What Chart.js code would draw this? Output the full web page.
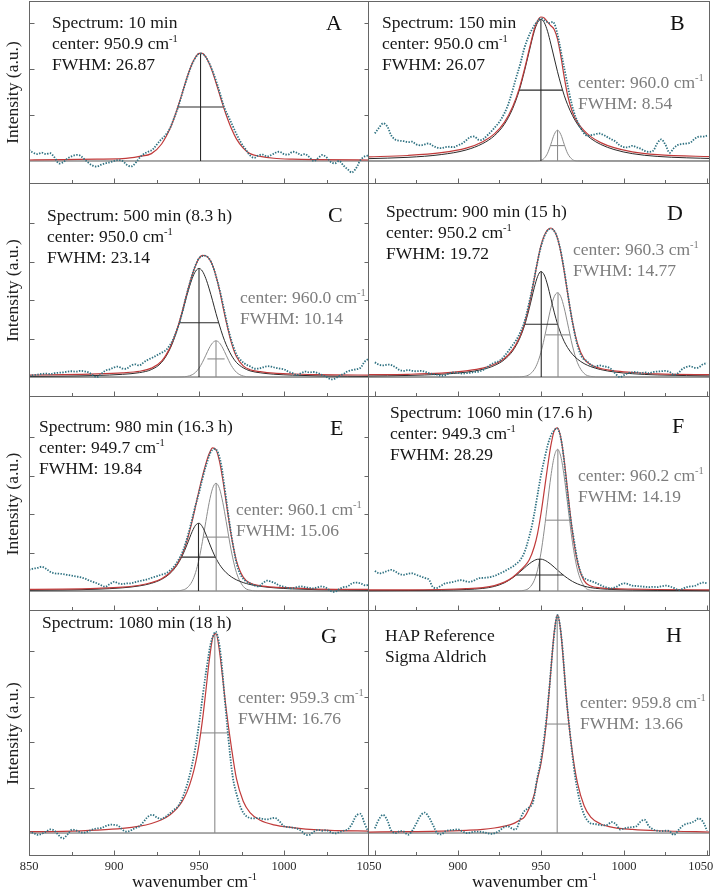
<!DOCTYPE html>
<html><head><meta charset="utf-8">
<script src="https://cdn.jsdelivr.net/npm/chart.js@4.4.1/dist/chart.umd.min.js"></script>
<style>
body{margin:0;background:#fff;width:714px;height:888px;overflow:hidden;position:relative;font-family:"Liberation Serif","Times New Roman",serif;}
canvas{position:absolute;}
.t{position:absolute;font-size:17.5px;line-height:21px;color:#161616;white-space:nowrap;z-index:2;}
.g{color:#7d7d7d;}
.L{position:absolute;font-size:22px;line-height:22px;color:#111;z-index:2;}
sup{font-size:10.5px;line-height:0;vertical-align:super;}
</style></head><body>
<script>
// ---------- data ----------
const PANELS = ['A','B','C','D','E','F','G','H'];
const HEAD_TEXT = [['Spectrum: 10 min'],['Spectrum: 150 min'],['Spectrum: 500 min (8.3 h)'],['Spectrum: 900 min (15 h)'],
  ['Spectrum: 980 min (16.3 h)'],['Spectrum: 1060 min (17.6 h)'],['Spectrum: 1080 min (18 h)'],['HAP Reference','Sigma Aldrich']];
const P1_CENTER = [950.9, 950.0, 950.0, 950.2, 949.7, 949.3, null, null];
const P1_FWHM   = [26.87, 26.07, 23.14, 19.72, 19.84, 28.29, null, null];
const P1_HEIGHT = [2.35, 3.08, 2.82, 2.74, 1.76, 0.83, null, null];
const P2_CENTER = [null, 960.0, 960.0, 960.3, 960.1, 960.2, 959.3, 959.8];
const P2_FWHM   = [null, 8.54, 10.14, 14.77, 15.06, 14.19, 16.76, 13.66];
const P2_HEIGHT = [null, 0.67, 0.94, 2.19, 2.80, 3.68, 4.40, 4.79];

const X_TICKS = [850, 875, 900, 925, 950, 975, 1000, 1025, 1050];
const X_LABELS = [[850, 900, 950, 1000, 1050], [900, 950, 1000, 1050]];

// measured spectra, x = 850, 852.5, ... 1050
const DATA_X0 = 850, DATA_STEP = 2.5;
const DATA_A = [0.24,0.18,0.15,0.18,0.15,0.17,0.08,-0.05,-0.03,0.05,
 0.1,0.13,0.12,0.04,-0.04,-0.1,-0.12,-0.08,-0.05,-0.03,
 0.0,0.02,0.0,-0.08,-0.12,-0.05,0.07,0.15,0.2,0.24,
 0.35,0.46,0.55,0.68,0.9,1.15,1.45,1.75,2.02,2.22,
 2.33,2.32,2.2,2.0,1.75,1.45,1.15,0.95,0.75,0.55,
 0.38,0.25,0.12,0.07,0.12,0.14,0.1,0.13,0.18,0.2,
 0.15,0.14,0.2,0.18,0.13,0.15,0.08,0.0,0.06,0.13,
 0.08,-0.02,-0.05,0.0,-0.1,-0.18,-0.25,-0.15,0.02,0.1,
 0.12];
const DATA_B = [0.6,0.72,0.82,0.75,0.55,0.46,0.44,0.43,0.41,0.42,
 0.36,0.34,0.36,0.38,0.33,0.29,0.28,0.3,0.31,0.3,
 0.34,0.38,0.45,0.52,0.53,0.46,0.47,0.55,0.64,0.74,
 0.85,1.0,1.2,1.48,1.8,2.1,2.45,2.7,2.88,3.02,
 3.1,3.05,3.0,3.02,2.75,2.3,1.85,1.4,1.05,0.82,
 0.65,0.55,0.56,0.58,0.6,0.57,0.52,0.47,0.42,0.34,
 0.3,0.3,0.33,0.3,0.27,0.22,0.2,0.22,0.38,0.47,
 0.35,0.18,0.28,0.35,0.37,0.38,0.4,0.48,0.53,0.53,
 0.55];
const DATA_C = [0.03,0.05,0.06,0.08,0.09,0.08,0.1,0.11,0.12,0.14,
 0.15,0.14,0.16,0.15,0.12,0.05,0.0,0.08,0.17,0.2,
 0.25,0.27,0.22,0.22,0.3,0.33,0.3,0.38,0.45,0.5,
 0.56,0.62,0.68,0.8,1.0,1.28,1.65,2.1,2.5,2.85,
 3.08,3.15,3.12,2.95,2.62,2.2,1.7,1.2,0.82,0.55,
 0.42,0.33,0.28,0.22,0.22,0.25,0.28,0.27,0.24,0.22,
 0.2,0.14,0.1,0.05,0.1,0.14,0.12,0.13,0.1,0.05,
 0.0,-0.06,-0.04,0.03,0.08,0.15,0.18,0.2,0.24,0.4,
 0.48];
const DATA_D = [0.38,0.32,0.3,0.32,0.31,0.25,0.18,0.16,0.18,0.16,
 0.15,0.16,0.14,0.1,0.08,0.06,0.03,0.05,0.1,0.12,
 0.11,0.09,0.1,0.11,0.13,0.14,0.18,0.25,0.33,0.38,
 0.42,0.52,0.65,0.8,0.95,1.15,1.42,1.85,2.35,2.9,
 3.38,3.7,3.84,3.82,3.6,3.15,2.5,1.8,1.2,0.75,
 0.5,0.42,0.32,0.27,0.3,0.28,0.26,0.2,0.08,0.0,
 0.05,0.1,0.12,0.13,0.1,0.12,0.1,0.13,0.14,0.15,
 0.16,0.13,0.06,0.1,0.2,0.26,0.28,0.24,0.25,0.33,
 0.36];
const DATA_E = [0.55,0.58,0.6,0.63,0.58,0.5,0.46,0.45,0.44,0.42,
 0.4,0.38,0.36,0.33,0.28,0.24,0.2,0.15,0.11,0.18,
 0.24,0.2,0.18,0.2,0.2,0.23,0.26,0.28,0.31,0.35,
 0.38,0.42,0.45,0.52,0.62,0.78,0.98,1.3,1.7,2.15,
 2.55,3.0,3.38,3.65,3.68,3.4,2.7,1.9,1.2,0.65,
 0.38,0.26,0.2,0.15,0.12,0.2,0.27,0.24,0.2,0.14,
 0.11,0.08,0.07,0.1,0.12,0.1,0.08,0.07,0.1,0.12,
 0.08,0.0,-0.02,0.05,0.1,0.12,0.2,0.22,0.2,0.15,
 0.16];
const DATA_F = [0.52,0.46,0.48,0.52,0.55,0.5,0.44,0.42,0.45,0.46,
 0.42,0.38,0.34,0.3,0.1,0.08,0.14,0.2,0.22,0.24,
 0.27,0.28,0.25,0.24,0.28,0.33,0.34,0.35,0.37,0.4,
 0.45,0.5,0.56,0.62,0.7,0.8,1.0,1.34,1.78,2.38,
 3.0,3.5,3.92,4.15,4.22,3.85,2.95,2.0,1.3,0.7,
 0.38,0.3,0.26,0.22,0.17,0.12,0.09,0.07,0.1,0.16,
 0.2,0.18,0.14,0.13,0.12,0.11,0.1,0.11,0.1,0.12,
 0.14,0.12,0.08,0.03,0.05,0.1,0.12,0.13,0.18,0.22,
 0.2];
const DATA_G = [0.03,0.0,-0.04,-0.02,0.03,0.08,0.05,-0.05,-0.12,-0.04,
 0.07,0.06,0.02,0.01,0.04,0.08,0.1,0.11,0.15,0.18,
 0.18,0.16,0.07,0.03,0.06,0.11,0.15,0.25,0.36,0.4,
 0.35,0.31,0.35,0.42,0.5,0.58,0.75,1.0,1.35,1.8,
 2.4,3.1,3.75,4.25,4.42,4.0,3.0,2.0,1.2,0.8,
 0.52,0.38,0.33,0.32,0.33,0.31,0.3,0.32,0.33,0.25,
 0.15,0.13,0.12,0.1,0.05,-0.03,-0.04,0.03,0.07,0.05,
 0.06,0.02,-0.01,0.02,0.05,0.08,0.2,0.38,0.42,0.2,
 0.0];
const DATA_H = [0.1,0.3,0.4,0.28,0.05,0.0,0.04,0.03,-0.04,0.05,
 0.21,0.38,0.45,0.35,0.18,0.0,-0.03,0.04,0.06,0.07,
 0.08,0.04,0.0,0.01,0.03,0.03,0.02,0.0,-0.02,0.0,
 0.05,0.12,0.15,0.1,0.08,0.3,0.48,0.55,0.65,1.15,
 1.6,2.25,3.15,4.2,4.79,4.25,3.1,2.2,1.4,0.85,
 0.5,0.3,0.21,0.2,0.18,0.17,0.18,0.24,0.2,0.08,
 0.1,0.12,0.13,0.15,0.25,0.29,0.15,0.08,0.05,0.04,
 0.05,0.04,-0.04,0.05,0.15,0.2,0.22,0.26,0.32,0.25,
 0.05];

// fitted curves at these wavenumbers
const FIT_X = [845,870,890,905,915,922,928,933,937,940,943,946,948,950,952,954,956,958,960,962,964,966,969,972,976,980,986,994,1005,1020,1055];
const FIT_A = [0.02,0.03,0.04,0.05,0.10,0.16,0.37,0.71,1.11,1.46,1.82,2.12,2.26,2.34,2.34,2.26,2.12,1.93,1.70,1.46,1.22,1.00,0.71,0.48,0.28,0.16,0.10,0.06,0.04,0.03,0.02];
const FIT_B = [0.09,0.12,0.18,0.28,0.42,0.59,0.84,1.18,1.58,1.98,2.43,2.86,3.05,3.13,3.11,3.02,2.94,2.86,2.65,2.28,1.83,1.44,1.06,0.84,0.66,0.53,0.40,0.29,0.20,0.14,0.09];
const COMP_B1 = [0.05,0.08,0.14,0.24,0.38,0.55,0.80,1.14,1.54,1.94,2.39,2.82,3.01,3.08,3.01,2.82,2.54,2.24,1.94,1.67,1.43,1.23,0.99,0.80,0.62,0.49,0.36,0.25,0.16,0.10,0.05];
const COMP_B2 = [0,0,0,0,0,0,0,0,0,0,0,0,0.003,0.015,0.059,0.17,0.365,0.575,0.67,0.575,0.365,0.17,0.031,0.002,0,0,0,0,0,0,0];
const FIT_C = [0.05,0.06,0.08,0.11,0.15,0.23,0.41,0.77,1.23,1.68,2.19,2.65,2.90,3.08,3.16,3.15,3.07,2.90,2.62,2.27,1.85,1.44,0.90,0.53,0.29,0.19,0.14,0.10,0.08,0.06,0.05];
const COMP_C1 = [0.015,0.023,0.04,0.07,0.114,0.194,0.38,0.736,1.20,1.65,2.14,2.56,2.75,2.82,2.75,2.56,2.29,1.98,1.65,1.35,1.07,0.84,0.57,0.38,0.24,0.16,0.11,0.073,0.048,0.03,0.015];
const COMP_C2 = [0,0,0,0,0,0,0,0,0,0.003,0.016,0.059,0.123,0.229,0.38,0.565,0.75,0.888,0.94,0.888,0.75,0.565,0.299,0.123,0.025,0.003,0,0,0,0,0];
const FIT_D = [0.06,0.07,0.10,0.16,0.23,0.33,0.48,0.71,1.02,1.37,1.88,2.55,3.01,3.41,3.67,3.82,3.87,3.80,3.60,3.24,2.75,2.20,1.43,0.87,0.47,0.32,0.22,0.16,0.12,0.08,0.06];
const COMP_D1 = [0.026,0.041,0.072,0.125,0.199,0.298,0.451,0.678,0.982,1.32,1.787,2.32,2.61,2.74,2.65,2.39,2.04,1.685,1.378,1.127,0.926,0.768,0.59,0.465,0.349,0.27,0.193,0.132,0.086,0.054,0.027];
const COMP_D2 = [0,0,0,0,0,0,0,0,0.003,0.016,0.062,0.196,0.371,0.639,0.995,1.405,1.798,2.085,2.19,2.085,1.798,1.405,0.807,0.371,0.093,0.016,0,0,0,0,0];
const FIT_E = [0.04,0.05,0.07,0.10,0.15,0.22,0.32,0.48,0.69,0.94,1.31,1.82,2.21,2.61,2.97,3.30,3.57,3.72,3.67,3.38,2.89,2.30,1.43,0.79,0.36,0.21,0.14,0.10,0.08,0.05,0.04];
const COMP_E1 = [0.017,0.027,0.047,0.083,0.133,0.20,0.304,0.459,0.667,0.90,1.209,1.545,1.71,1.76,1.67,1.48,1.254,1.035,0.847,0.693,0.572,0.476,0.368,0.291,0.219,0.17,0.122,0.084,0.055,0.034,0.017];
const COMP_E2 = [0,0,0,0,0,0,0,0,0.004,0.021,0.082,0.255,0.482,0.825,1.281,1.803,2.30,2.666,2.80,2.666,2.30,1.803,1.04,0.482,0.122,0.021,0,0,0,0,0];
const FIT_F = [0.03,0.03,0.04,0.06,0.09,0.14,0.23,0.36,0.51,0.64,0.81,1.15,1.50,2.00,2.60,3.22,3.78,4.16,4.24,3.98,3.40,2.64,1.53,0.76,0.27,0.13,0.08,0.06,0.05,0.04,0.03];
const COMP_F1 = [0.008,0.013,0.022,0.039,0.067,0.119,0.213,0.343,0.482,0.597,0.708,0.793,0.825,0.828,0.805,0.758,0.694,0.62,0.543,0.467,0.396,0.332,0.249,0.186,0.126,0.088,0.057,0.038,0.025,0.016,0.008];
const COMP_F2 = [0,0,0,0,0,0,0,0,0.003,0.019,0.081,0.277,0.551,0.984,1.582,2.289,2.98,3.49,3.68,3.49,2.98,2.289,1.265,0.551,0.126,0.019,0,0,0,0,0];
const FIT_G = [0.03,0.038,0.063,0.10,0.15,0.21,0.29,0.40,0.54,0.69,0.91,1.24,1.54,1.95,2.47,3.11,3.78,4.28,4.38,4.01,3.38,2.72,1.90,1.20,0.70,0.45,0.28,0.18,0.12,0.07,0.04];
const FIT_H = [0.02,0.03,0.04,0.06,0.08,0.11,0.15,0.20,0.28,0.35,0.55,0.85,1.20,1.52,2.02,2.70,3.57,4.41,4.79,4.41,3.57,2.70,1.75,1.10,0.60,0.35,0.20,0.12,0.08,0.05,0.02];

const DATA = [DATA_A, DATA_B, DATA_C, DATA_D, DATA_E, DATA_F, DATA_G, DATA_H];
const FITS = [FIT_A, FIT_B, FIT_C, FIT_D, FIT_E, FIT_F, FIT_G, FIT_H];
const COMP1 = [null, COMP_B1, COMP_C1, COMP_D1, COMP_E1, COMP_F1, null, null];
const COMP2 = [null, COMP_B2, COMP_C2, COMP_D2, COMP_E2, COMP_F2, null, null];

// ---------- layout ----------
const ROW_TOP = [0, 184, 397, 611];
const ROW_H = [184, 213, 214, 277];
const ROW_PAD_TOP = [1, 0, 0, 0];
const ROW_YMIN = [-0.5, -0.519, -0.519, -0.505];
const ROW_YMAX = [3.478, 5.013, 5.039, 4.879];
const ROW_YTICKS = [[1,2,3],[1,2,3,4],[1,2,3,4],[1,2,3,4]];
const COL_LEFT = [0, 369];
const COL_W = [390, 345];
const COL_PAD_RIGHT = [21, 4];
const COL_XMIN = [850, 846.5];
const COL_XMAX = [1050, 1051.8];

const BLK_POS = [[52,11.6],[382,11.6],[47,204.6],[386,200.6],[39,415.6],[390,401.6],[42,611.6],[385,624.6]];
const GRY_POS = [null,[578,71.6],[240,286.6],[573,238.6],[236,498.6],[578,464.6],[238,686.6],[580,691.6]];
const LET_POS = [[326,11.6],[670,11.6],[328,203.6],[667,201.6],[330,416.6],[672,414.6],[321,624.6],[666,623.6]];

const RED = '#c03a3a', BLK = '#2a2a2a', GRY = '#8c8c8c', DOT = '#2f7282', FRAME = '#666';
const FONT = 'Liberation Serif';

function pts(xs, ys) { return ys.map((v, k) => ({x: xs[k], y: v})); }

function addText(cls, pos, html) {
  const d = document.createElement('div');
  d.className = cls; d.style.left = pos[0] + 'px'; d.style.top = pos[1] + 'px';
  d.innerHTML = html; document.body.appendChild(d);
}

function makePanel(i) {
  const r = Math.floor(i / 2), c = i % 2;
  const cv = document.createElement('canvas');
  cv.width = COL_W[c]; cv.height = ROW_H[r];
  cv.style.left = COL_LEFT[c] + 'px'; cv.style.top = ROW_TOP[r] + 'px';
  document.body.appendChild(cv);

  const ds = [];
  ds.push({data: DATA[i].map((v, k) => ({x: DATA_X0 + k * DATA_STEP, y: v})), borderColor: DOT, borderWidth: 1.8,
           borderDash: [1.4, 1.4], tension: 0.35, order: 0});
  ds.push({data: pts(FIT_X, FITS[i]), borderColor: RED, borderWidth: 1.2, cubicInterpolationMode: 'monotone', order: 1});
  if (P1_CENTER[i] !== null) {
    const cx = P1_CENTER[i], h = P1_HEIGHT[i], f = P1_FWHM[i];
    ds.push({data: [{x: cx, y: 0}, {x: cx, y: h}], borderColor: BLK, borderWidth: 1.1, order: 2});
    ds.push({data: [{x: cx - f / 2, y: h / 2}, {x: cx + f / 2, y: h / 2}], borderColor: BLK, borderWidth: 1.1, order: 2});
  }
  if (P2_CENTER[i] !== null) {
    const cx = P2_CENTER[i], h = P2_HEIGHT[i], f = P2_FWHM[i];
    ds.push({data: [{x: cx, y: 0}, {x: cx, y: h}], borderColor: GRY, borderWidth: 1.1, order: 2});
    ds.push({data: [{x: cx - f / 2, y: h / 2}, {x: cx + f / 2, y: h / 2}], borderColor: GRY, borderWidth: 1.1, order: 2});
  }
  if (COMP1[i]) ds.push({data: pts(FIT_X, COMP1[i]), borderColor: BLK, borderWidth: 1, cubicInterpolationMode: 'monotone', order: 3});
  if (COMP2[i]) ds.push({data: pts(FIT_X, COMP2[i]), borderColor: GRY, borderWidth: 1, cubicInterpolationMode: 'monotone', order: 3});
  ds.push({data: [{x: 840, y: 0}, {x: 1060, y: 0}], borderColor: '#555', borderWidth: 1, order: 5});

  const frame = {
    id: 'frame',
    afterDatasetsDraw(chart) {
      const {ctx, chartArea: a, scales: {x, y}} = chart;
      ctx.save();
      ctx.strokeStyle = FRAME; ctx.lineWidth = 1;
      ctx.beginPath();
      const L = Math.round(a.left) + 0.5, R = Math.round(a.right) - 0.5;
      const T = Math.round(a.top) + 0.5, B = Math.round(a.bottom) - 0.5;
      ctx.moveTo(a.left, B); ctx.lineTo(a.right, B);
      ctx.moveTo(R, a.top); ctx.lineTo(R, a.bottom);
      if (c === 0) { ctx.moveTo(L, a.top); ctx.lineTo(L, a.bottom); }
      if (r === 0) { ctx.moveTo(a.left, T); ctx.lineTo(a.right, T); }
      X_TICKS.forEach(v => {
        const px = Math.round(x.getPixelForValue(v)) + 0.5;
        if (px < a.left + 2 || px > a.right - 2) return;
        const len = v % 50 === 0 ? 5 : 3.5;
        ctx.moveTo(px, B); ctx.lineTo(px, B - len);
      });
      if (c === 0) {
        ROW_YTICKS[r].forEach(v => {
          const py = Math.round(y.getPixelForValue(v)) + 0.5;
          ctx.moveTo(L, py); ctx.lineTo(L + 5, py);
          ctx.moveTo(R, py); ctx.lineTo(R - 4, py);
        });
      }
      ctx.stroke(); ctx.restore();
    }
  };

  new Chart(cv, {
    type: 'line',
    data: {datasets: ds},
    options: {
      responsive: false, animation: false, devicePixelRatio: 1, events: [],
      layout: {padding: {top: ROW_PAD_TOP[r], right: COL_PAD_RIGHT[c], left: 0, bottom: 0}},
      elements: {point: {radius: 0}, line: {fill: false}},
      plugins: {legend: {display: false}, tooltip: {enabled: false}},
      scales: {
        x: {
          type: 'linear', min: COL_XMIN[c], max: COL_XMAX[c], display: r === 3, position: 'bottom',
          afterBuildTicks: s => { s.ticks = X_LABELS[c].map(v => ({value: v})); },
          ticks: {autoSkip: false, maxRotation: 0, minRotation: 0, padding: 3, color: '#2a2a2a',
                  font: {family: FONT, size: 12.5},
                  callback: v => (c === 1 && v === 1050) ? '1050    ' : String(v)},
          grid: {display: false, drawTicks: false}, border: {display: false},
          afterFit: s => { s.height = (r === 3) ? 32 : 0; s.paddingLeft = 0; s.paddingRight = 0; }
        },
        y: {
          type: 'linear', min: ROW_YMIN[r], max: ROW_YMAX[r], display: c === 0,
          ticks: {display: false}, grid: {display: false, drawTicks: false}, border: {display: false},
          title: {display: true, text: 'Intensity (a.u.)', color: '#222', font: {family: FONT, size: 17.5},
                  padding: {top: 3, bottom: 0}},
          afterFit: s => { s.width = (c === 0) ? 29 : 0; s.paddingTop = 0; s.paddingBottom = 0; }
        }
      }
    },
    plugins: [frame]
  });

  // annotations
  const lines = HEAD_TEXT[i].slice();
  if (P1_CENTER[i] !== null) {
    lines.push('center: ' + P1_CENTER[i].toFixed(1) + ' cm<sup>-1</sup>');
    lines.push('FWHM: ' + P1_FWHM[i].toFixed(2));
  }
  addText('t', BLK_POS[i], lines.join('<br>'));
  if (P2_CENTER[i] !== null) {
    addText('t g', GRY_POS[i], 'center: ' + P2_CENTER[i].toFixed(1) + ' cm<sup>-1</sup><br>FWHM: ' + P2_FWHM[i].toFixed(2));
  }
  addText('L', LET_POS[i], PANELS[i]);
}

for (let i = 0; i < 8; i++) makePanel(i);
addText('t', [132, 870.6], 'wavenumber cm<sup>-1</sup>');
addText('t', [472, 870.6], 'wavenumber cm<sup>-1</sup>');
</script>
</body></html>
